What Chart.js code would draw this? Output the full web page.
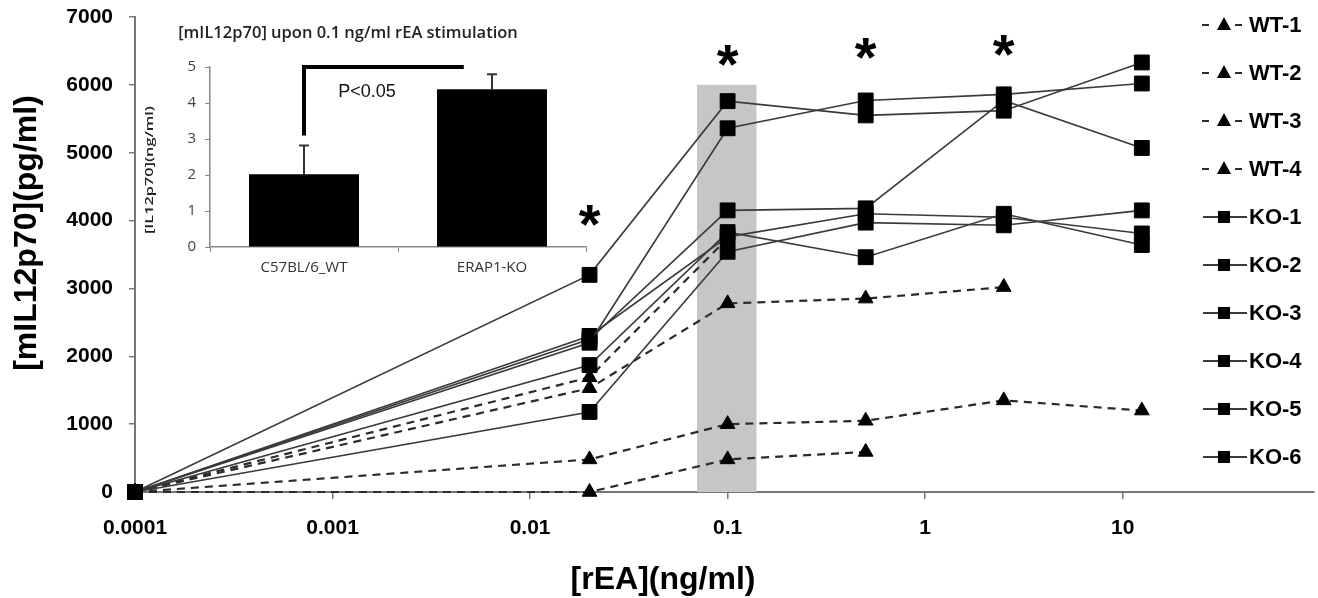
<!DOCTYPE html>
<html>
<head>
<meta charset="utf-8">
<script src="https://cdn.jsdelivr.net/npm/chart.js@4.4.1/dist/chart.umd.min.js"></script>
<style>
  html, body { margin: 0; padding: 0; background: #fff; }
  #wrap { position: relative; width: 1318px; height: 598px; overflow: hidden; }
  #mainChart { position: absolute; left: 0; top: 0; }
  #insetChart { position: absolute; left: 130px; top: 0; }
</style>
</head>
<body>
<div id="wrap">
  <canvas id="mainChart" width="1318" height="598"></canvas>
  <canvas id="insetChart" width="460" height="290"></canvas>
</div>
<script>
// rEA doses (ng/ml) and mIL12p70 (pg/ml) per mouse
const doses = [0.0001, 0.02, 0.1, 0.5, 2.5, 12.5];
const wt1 = [0, 1690, 3740, null, null, null];
const wt2 = [0, 1530, 2780, 2850, 3020, null];
const wt3 = [0, 480, 1000, 1050, 1350, 1200];
const wt4 = [0, 0, 480, 590, null, null];
const ko1 = [0, 3200, 5760, 5550, 5620, 6330];
const ko2 = [0, 2200, 5360, 5770, 5860, 6020];
const ko3 = [0, 2250, 4150, 4180, 5770, 5070];
const ko4 = [0, 2300, 3760, 4100, 4050, 3810];
const ko5 = [0, 1870, 3830, 3460, 4100, 3640];
const ko6 = [0, 1180, 3540, 3970, 3930, 4150];
const wtNames = ["WT-1", "WT-2", "WT-3", "WT-4"];
const koNames = ["KO-1", "KO-2", "KO-3", "KO-4", "KO-5", "KO-6"];

const xTickValues = [0.0001, 0.001, 0.01, 0.1, 1, 10];
const xTickLabels = ["0.0001", "0.001", "0.01", "0.1", "1", "10"];
const starDoses = [0.02, 0.1, 0.5, 2.5];
const starLevels = [4080, 6440, 6540, 6580];
const bandDoses = [0.07, 0.14];
const bandTop = 6000;

// inset: [mIL12p70] at 0.1 ng/ml
const insetGroups = ["C57BL/6_WT", "ERAP1-KO"];
const insetMeans = [2.02, 4.38];
const insetErrors = [0.8, 0.42];
const bracketX = [0, 0.85];
const bracketY = [3.1, 5];

const FONT = "'Liberation Sans', Arial, sans-serif";
const INSET_FONT = "'Open Sans', 'Noto Sans', sans-serif";

const toPoints = vals => doses.map((d, i) => ({ x: d, y: vals[i] }));

const wtSets = [wt1, wt2, wt3, wt4].map((vals, i) => ({
    label: wtNames[i],
    data: toPoints(vals),
    borderColor: "#2a2a2a",
    borderWidth: 2.2,
    borderDash: [8, 6],
    pointStyle: "triangle",
    pointRadius: 8.5,
    pointBackgroundColor: "#000",
    pointBorderColor: "#000",
    pointBorderWidth: 1,
    order: 2,
    clip: false
}));

const koSets = [ko1, ko2, ko3, ko4, ko5, ko6].map((vals, i) => ({
    label: koNames[i],
    data: toPoints(vals),
    borderColor: "#3a3a3a",
    borderWidth: 1.6,
    pointStyle: "rect",
    pointRadius: 10.5,
    pointBackgroundColor: "#000",
    pointBorderColor: "#000",
    pointBorderWidth: 1,
    order: 1,
    clip: false
}));

const bandPlugin = {
    id: "band",
    beforeDatasetsDraw(chart) {
        const { ctx, scales: { x, y } } = chart;
        const x0 = x.getPixelForValue(bandDoses[0]);
        const x1 = x.getPixelForValue(bandDoses[1]);
        const y0 = y.getPixelForValue(bandTop);
        ctx.save();
        ctx.fillStyle = "#c6c6c6";
        ctx.fillRect(x0, y0, x1 - x0, y.getPixelForValue(0) - y0);
        ctx.restore();
    }
};

const extrasPlugin = {
    id: "extras",
    afterDraw(chart) {
        const { ctx, scales: { x, y } } = chart;
        ctx.save();

        // significance stars
        ctx.fillStyle = "#000";
        ctx.font = "bold 56px " + FONT;
        ctx.textAlign = "center";
        ctx.textBaseline = "alphabetic";
        const m = ctx.measureText("*");
        const shift = (m.actualBoundingBoxAscent - m.actualBoundingBoxDescent) / 2;
        starDoses.forEach((d, i) => {
            ctx.fillText("*", x.getPixelForValue(d), y.getPixelForValue(starLevels[i]) + shift);
        });

        // axis titles
        ctx.font = "bold 32px " + FONT;
        ctx.textBaseline = "middle";
        ctx.fillText("[rEA](ng/ml)", 663, 580);
        ctx.save();
        ctx.translate(27, 233);
        ctx.rotate(-Math.PI / 2);
        ctx.fillText("[mIL12p70](pg/ml)", 0, 0);
        ctx.restore();

        // legend
        ctx.font = "bold 22px " + FONT;
        ctx.textAlign = "left";
        chart.data.datasets.forEach((ds, i) => {
            const cy = 25 + i * 48;
            const cx = 1224;
            ctx.strokeStyle = ds.borderColor;
            ctx.lineWidth = 2;
            ctx.beginPath();
            if (ds.pointStyle === "triangle") {
                ctx.moveTo(1202, cy); ctx.lineTo(1209, cy);
                ctx.moveTo(1235, cy); ctx.lineTo(1242, cy);
                ctx.stroke();
                ctx.beginPath();
                ctx.moveTo(cx, cy - 8);
                ctx.lineTo(cx + 7, cy + 5);
                ctx.lineTo(cx - 7, cy + 5);
                ctx.closePath();
                ctx.fill();
            } else {
                ctx.moveTo(1203, cy); ctx.lineTo(1247, cy);
                ctx.stroke();
                ctx.fillRect(cx - 6, cy - 6, 12, 12);
            }
            ctx.fillText(ds.label, 1249, cy + 1);
        });
        ctx.restore();
    }
};

new Chart(document.getElementById("mainChart"), {
    type: "line",
    data: { datasets: [...wtSets, ...koSets] },
    options: {
        responsive: false,
        animation: false,
        devicePixelRatio: 1,
        layout: { autoPadding: false, padding: { top: 17, right: 4 } },
        plugins: { legend: { display: false }, tooltip: { enabled: false } },
        scales: {
            x: {
                type: "logarithmic",
                min: 0.0001,
                max: 93,
                afterBuildTicks: s => { s.ticks = xTickValues.map(v => ({ value: v })); },
                afterFit: s => { s.height = 106; s.paddingLeft = 0; s.paddingRight = 0; },
                grid: { drawOnChartArea: false, drawTicks: true, tickLength: 7, color: "#777", lineWidth: 1.5 },
                border: { color: "#777", width: 2 },
                ticks: {
                    color: "#000",
                    font: { family: FONT, size: 21, weight: "bold" },
                    padding: 17,
                    maxRotation: 0,
                    autoSkip: false,
                    callback: (v, i) => xTickLabels[i]
                }
            },
            y: {
                min: 0,
                max: 7000,
                afterFit: s => { s.width = 135; s.paddingTop = 0; s.paddingBottom = 0; },
                grid: { drawOnChartArea: false, drawTicks: true, tickLength: 6, color: "#777", lineWidth: 1.5 },
                border: { color: "#777", width: 2 },
                ticks: {
                    stepSize: 1000,
                    color: "#000",
                    font: { family: FONT, size: 21, weight: "bold" },
                    padding: 16,
                    callback: v => String(v)
                }
            }
        }
    },
    plugins: [bandPlugin, extrasPlugin]
});

const insetPlugin = {
    id: "insetExtras",
    afterDraw(chart) {
        const { ctx, scales: { x, y } } = chart;
        ctx.save();

        // error bars (upper only)
        ctx.strokeStyle = "#333";
        ctx.lineWidth = 2;
        insetMeans.forEach((mean, i) => {
            const px = x.getPixelForValue(i);
            const top = y.getPixelForValue(mean + insetErrors[i]);
            ctx.beginPath();
            ctx.moveTo(px, y.getPixelForValue(mean));
            ctx.lineTo(px, top);
            ctx.moveTo(px - 5, top);
            ctx.lineTo(px + 5, top);
            ctx.stroke();
        });

        // significance bracket
        ctx.strokeStyle = "#000";
        ctx.lineWidth = 4;
        ctx.beginPath();
        ctx.moveTo(x.getPixelForValue(bracketX[0]), y.getPixelForValue(bracketY[0]));
        ctx.lineTo(x.getPixelForValue(bracketX[0]), y.getPixelForValue(bracketY[1]));
        ctx.lineTo(x.getPixelForValue(bracketX[1]), y.getPixelForValue(bracketY[1]));
        ctx.stroke();

        ctx.fillStyle = "#111";
        ctx.font = "18px " + FONT;
        ctx.textAlign = "center";
        ctx.textBaseline = "middle";
        ctx.fillText("P<0.05", 237, 92);

        // title
        ctx.fillStyle = "#222";
        ctx.font = "600 16.5px " + INSET_FONT;
        ctx.fillText("[mIL12p70] upon 0.1 ng/ml rEA stimulation", 218, 33);

        // y title
        ctx.font = "600 11px " + INSET_FONT;
        const label = "[IL12p70](ng/ml)";
        const stretch = 128 / ctx.measureText(label).width;
        ctx.translate(20, 170);
        ctx.rotate(-Math.PI / 2);
        ctx.scale(stretch, 1);
        ctx.fillText(label, 0, 0);
        ctx.restore();
    }
};

new Chart(document.getElementById("insetChart"), {
    type: "bar",
    data: {
        labels: insetGroups,
        datasets: [{
            data: insetMeans,
            backgroundColor: "#000",
            borderWidth: 0,
            barPercentage: 0.585,
            categoryPercentage: 1
        }]
    },
    options: {
        responsive: false,
        animation: false,
        devicePixelRatio: 1,
        layout: { autoPadding: false, padding: { top: 67, right: 4 } },
        plugins: { legend: { display: false }, tooltip: { enabled: false } },
        scales: {
            x: {
                afterFit: s => { s.height = 43; s.paddingLeft = 0; s.paddingRight = 0; },
                grid: { offset: true, drawOnChartArea: false, tickLength: 5, color: "#888" },
                border: { color: "#888", width: 1.5 },
                ticks: { color: "#333", font: { family: INSET_FONT, size: 15 }, padding: 7 }
            },
            y: {
                min: 0,
                max: 5,
                afterFit: s => { s.width = 80; s.paddingTop = 0; s.paddingBottom = 0; },
                grid: { drawOnChartArea: false, tickLength: 5, color: "#888" },
                border: { color: "#888", width: 1.5 },
                ticks: { stepSize: 1, color: "#444", font: { family: INSET_FONT, size: 15 }, padding: 9 }
            }
        }
    },
    plugins: [insetPlugin]
});
</script>
</body>
</html>
